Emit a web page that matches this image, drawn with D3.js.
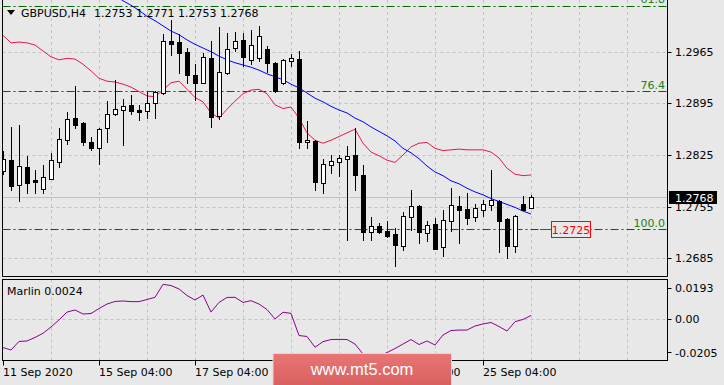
<!DOCTYPE html>
<html>
<head>
<meta charset="utf-8">
<script src="https://cdnjs.cloudflare.com/ajax/libs/d3/7.8.5/d3.min.js"></script>
<style>
body{margin:0;background:#e8e8e8;}
svg{display:block;font-family:"DejaVu Sans",sans-serif;}
</style>
</head>
<body>
<div id="chart"></div>
<script>
// GBPUSD H4 candles, 11 Sep 04:00 .. 28 Sep 04:00
var opens = [1.2803,1.2818,1.2784,1.2809,1.2791,1.2779,1.2793,1.2816,1.2845,1.2875,
	1.2869,1.2843,1.2834,1.2861,1.2881,1.2886,1.2893,1.2886,1.2884,1.2895,
	1.2909,1.2979,1.2978,1.2964,1.2933,1.2923,1.2957,1.2878,1.2936,1.2970,
	1.2981,1.2954,1.2957,1.2969,1.2950,1.2922,1.2953,1.2955,1.2842,1.2844,
	1.2787,1.2812,1.2816,1.2820,1.2825,1.2798,1.2721,1.2729,1.2722,1.2718,
	1.2702,1.2741,1.2756,1.2719,1.2732,1.2700,1.2735,1.2756,1.2752,1.2741,
	1.2751,1.2757,1.2763,1.2738,1.2701,1.2759,1.2753];
var highs = [1.2830,1.2863,1.2866,1.2824,1.2805,1.2811,1.2828,1.2862,1.2883,1.2918,
	1.2870,1.2850,1.2862,1.2898,1.2927,1.2901,1.2906,1.2893,1.2910,1.2912,
	1.2989,1.3008,1.2989,1.2970,1.2949,1.2963,1.2980,1.2998,1.2990,1.2992,
	1.2990,1.2994,1.3000,1.2973,1.2951,1.2955,1.2962,1.2966,1.2871,1.2845,
	1.2820,1.2825,1.2825,1.2837,1.2861,1.2812,1.2741,1.2733,1.2735,1.2726,
	1.2748,1.2777,1.2757,1.2735,1.2739,1.2751,1.2780,1.2769,1.2773,1.2758,
	1.2764,1.2805,1.2764,1.2739,1.2744,1.2770,1.2771];
var lows = [1.2799,1.2778,1.2762,1.2774,1.2774,1.2774,1.2792,1.2809,1.2840,1.2861,
	1.2839,1.2832,1.2813,1.2843,1.2879,1.2839,1.2880,1.2873,1.2875,1.2875,
	1.2908,1.2960,1.2936,1.2922,1.2900,1.2922,1.2863,1.2874,1.2935,1.2966,
	1.2945,1.2948,1.2952,1.2938,1.2911,1.2921,1.2945,1.2834,1.2834,1.2778,
	1.2774,1.2801,1.2797,1.2710,1.2778,1.2710,1.2710,1.2719,1.2714,1.2675,
	1.2696,1.2723,1.2706,1.2709,1.2698,1.2688,1.2722,1.2706,1.2732,1.2736,
	1.2742,1.2750,1.2693,1.2686,1.2694,1.2750,1.2753];
var closes = [1.2819,1.2783,1.2810,1.2787,1.2789,1.2795,1.2818,1.2847,1.2874,1.2866,
	1.2843,1.2835,1.2860,1.2880,1.2887,1.2891,1.2885,1.2883,1.2896,1.2910,
	1.2980,1.2976,1.2963,1.2934,1.2923,1.2958,1.2877,1.2937,1.2968,1.2979,
	1.2958,1.2974,1.2986,1.2950,1.2912,1.2954,1.2956,1.2843,1.2845,1.2789,
	1.2813,1.2817,1.2821,1.2824,1.2798,1.2720,1.2729,1.2720,1.2715,1.2703,
	1.2742,1.2756,1.2720,1.2730,1.2698,1.2737,1.2757,1.2750,1.2739,1.2753,
	1.2759,1.2764,1.2736,1.2701,1.2743,1.2750,1.2768];

// blue moving average (starts above the visible area)
var maBlue = [null,null,null,null,null,null,null,null,null,null,
	null,null,null,null,1.3042,1.3034,1.3028,1.3021,1.3013,1.3007,
	1.3000,1.2993,1.2988,1.2981,1.2975,1.2970,1.2965,1.2959,1.2954,1.2950,
	1.2947,1.2944,1.2940,1.2935,1.2931,1.2927,1.2921,1.2916,1.2909,1.2902,
	1.2897,1.2891,1.2886,1.2882,1.2875,1.2870,1.2863,1.2857,1.2851,1.2844,
	1.2834,1.2828,1.2820,1.2810,1.2802,1.2797,1.2790,1.2786,1.2780,1.2775,
	1.2771,1.2766,1.2762,1.2758,1.2754,1.2749,1.2745];
// red line
var maRed = [1.2987,1.2977,1.2978,1.2977,1.2974,1.2966,1.2958,1.2954,1.2956,1.2955,
	1.2948,1.2939,1.2929,1.2925,1.2924,1.2921,1.2917,1.2911,1.2905,1.2904,
	1.2913,1.2923,1.2925,1.2914,1.2903,1.2897,1.2882,1.2875,1.2887,1.2898,
	1.2908,1.2913,1.2914,1.2908,1.2893,1.2888,1.2890,1.2875,1.2855,1.2845,
	1.2841,1.2845,1.2850,1.2855,1.2860,1.2841,1.2829,1.2824,1.2818,1.2815,
	1.2825,1.2836,1.2841,1.2842,1.2834,1.2831,1.2832,1.2833,1.2832,1.2832,
	1.2832,1.2829,1.2821,1.2807,1.2799,1.2797,1.2798];
// Marlin oscillator
var marlin = [-0.0176,-0.0191,-0.0138,-0.0135,-0.0113,-0.0087,-0.0048,-0.0004,0.0045,0.0058,
	0.0033,0.0036,0.0067,0.0095,0.0111,0.0114,0.0110,0.0110,0.0123,0.0137,
	0.0218,0.0210,0.0189,0.0148,0.0120,0.0151,0.0045,0.0105,0.0136,0.0137,
	0.0105,0.0116,0.0095,0.0061,0.0002,0.0044,0.0037,-0.0101,-0.0107,-0.0174,
	-0.0139,-0.0126,-0.0125,-0.0126,-0.0154,-0.0216,-0.0235,-0.0229,-0.0207,-0.0182,
	-0.0154,-0.0126,-0.0157,-0.0135,-0.0160,-0.0098,-0.0070,-0.0067,-0.0067,-0.0042,
	-0.0029,-0.0020,-0.0045,-0.0073,-0.0015,-0.0001,0.0024];

var priceTicks = [1.2685,1.2755,1.2825,1.2895,1.2965];
var subTicks = [0.0193,0,-0.0205];
var subTickLabels = ["0.0193","0.00","-0.0205"];
var timeTickIdx = [0,12,24,36,48,60];
var timeTickLabels = ["11 Sep 2020","15 Sep 04:00","17 Sep 04:00","21 Sep 04:00","23 Sep 04:00","25 Sep 04:00"];
var fibLevels = [61.8,76.4,100,110];
var fibTop = 1.3517, fibBottom = 1.27245; // prices at 0% and 100%
var hLinePrice = 1.2725;

var W = 724, H = 385;
var bg = "#e8e8e8";
var n = closes.length;
var snap = function(v){ return Math.round(v) + 0.5; };

var svg = d3.select("#chart").append("svg").attr("width", W).attr("height", H);
svg.append("rect").attr("width", W).attr("height", H).attr("fill", bg);

var L = 2.5, R = 667.5, mainBottom = 276.5, subTop = 279.5, subBottom = 360.5;

var x = d3.scaleLinear().domain([0, n - 1]).range([3, 531]);
var y = d3.scaleLinear().domain([1.2685, 1.2965]).range([258.3, 51.7]);
var ys = d3.scaleLinear().domain([0, 0.0193]).range([319.3, 288.3]);

var defs = svg.append("defs");
defs.append("clipPath").attr("id", "clipMain").append("rect")
	.attr("x", L).attr("y", 0).attr("width", R - L).attr("height", mainBottom);
defs.append("clipPath").attr("id", "clipSub").append("rect")
	.attr("x", L).attr("y", subTop).attr("width", R - L).attr("height", subBottom - subTop);
var grad = defs.append("linearGradient").attr("id", "wm").attr("x1", 0).attr("y1", 0).attr("x2", 0).attr("y2", 1);
grad.append("stop").attr("offset", 0).attr("stop-color", "#e97575");
grad.append("stop").attr("offset", 1).attr("stop-color", "#d85f5f");

var gridX = d3.range(6, 90, 6).filter(function(i){ return x(i) < R - 2; });

// ---- main panel ----
var gm = svg.append("g").attr("clip-path", "url(#clipMain)");

gm.selectAll(".vgrid").data(gridX).enter().append("line")
	.attr("x1", function(d){ return snap(x(d)); }).attr("x2", function(d){ return snap(x(d)); })
	.attr("y1", 0).attr("y2", mainBottom)
	.attr("stroke", "#c3c3c3").attr("stroke-dasharray", "3,3");
gm.selectAll(".hgrid").data(priceTicks).enter().append("line")
	.attr("x1", L).attr("x2", R)
	.attr("y1", function(d){ return snap(y(d)); }).attr("y2", function(d){ return snap(y(d)); })
	.attr("stroke", "#c3c3c3").attr("stroke-dasharray", "3,3");

// current price line
gm.append("line").attr("x1", L).attr("x2", R)
	.attr("y1", snap(y(closes[n-1]))).attr("y2", snap(y(closes[n-1])))
	.attr("stroke", "#c0c0c0");

// fibo levels
var fibPrice = function(l){ return fibTop - (fibTop - fibBottom) * l / 100; };
gm.selectAll(".fib").data(fibLevels).enter().append("line")
	.attr("x1", L).attr("x2", R)
	.attr("y1", function(d){ return snap(y(fibPrice(d))); })
	.attr("y2", function(d){ return snap(y(fibPrice(d))); })
	.attr("stroke", "#006400").attr("stroke-dasharray", "8,3,2,3");
gm.selectAll(".fibtxt").data(fibLevels).enter().append("text")
	.attr("x", 665).attr("y", function(d){ return y(fibPrice(d)) - 2.5; })
	.attr("text-anchor", "end").attr("font-size", 11).attr("fill", "#1a801a")
	.text(function(d){ return d.toFixed(1); });

// moving averages
var line = d3.line().defined(function(d){ return d != null; })
	.x(function(d, i){ return x(i); }).y(function(d){ return y(d); });
gm.append("path").datum(maRed).attr("d", line).attr("fill", "none").attr("stroke", "#e8174a").attr("stroke-width", 1);
gm.append("path").datum(maBlue).attr("d", line).attr("fill", "none").attr("stroke", "#0000ff").attr("stroke-width", 1);

// candles
var idx = d3.range(n);
gm.selectAll(".wick").data(idx).enter().append("line")
	.attr("x1", function(i){ return snap(x(i)); }).attr("x2", function(i){ return snap(x(i)); })
	.attr("y1", function(i){ return Math.round(y(highs[i])); })
	.attr("y2", function(i){ return Math.round(y(lows[i])) + 1; })
	.attr("stroke", "#000");
gm.selectAll(".body").data(idx).enter().append("rect")
	.attr("x", function(i){ return Math.round(x(i)) - 2 + 0.5; })
	.attr("y", function(i){ return snap(y(Math.max(opens[i], closes[i]))); })
	.attr("width", 4)
	.attr("height", function(i){
		var h = Math.round(y(Math.min(opens[i], closes[i]))) - Math.round(y(Math.max(opens[i], closes[i])));
		return Math.max(h, 1);
	})
	.attr("fill", function(i){ return closes[i] >= opens[i] ? "#fff" : "#000"; })
	.attr("stroke", "#000");

// horizontal red line with price tag
var hy = snap(y(hLinePrice));
gm.append("line").attr("x1", x(n-1) + 9).attr("x2", 551).attr("y1", hy).attr("y2", hy).attr("stroke", "#ff0000");
gm.append("rect").attr("x", 551.5).attr("y", hy - 8).attr("width", 39).attr("height", 16)
	.attr("fill", bg).attr("stroke", "#ff0000");
gm.append("text").attr("x", 571).attr("y", hy + 4.5).attr("text-anchor", "middle")
	.attr("font-size", 11).attr("fill", "#ff0000").text(hLinePrice.toFixed(4));

// header
svg.append("path").attr("d", "M7,10L15,10L11,15Z").attr("fill", "#000");
svg.append("text").attr("x", 21).attr("y", 16.5).attr("font-size", 11).attr("fill", "#000").text("GBPUSD,H4");
svg.append("text").attr("x", 94).attr("y", 16.5).attr("font-size", 11).attr("fill", "#000")
	.attr("xml:space", "preserve")
	.text([opens[n-1], highs[n-1], lows[n-1], closes[n-1]].map(function(v){ return v.toFixed(4); }).join(" "));

// main borders
svg.append("path").attr("d", "M" + L + ",0V" + mainBottom + "H" + R + "V0").attr("fill", "none").attr("stroke", "#000");

// price axis
svg.selectAll(".ptick").data(priceTicks).enter().append("line")
	.attr("x1", R).attr("x2", R + 4)
	.attr("y1", function(d){ return snap(y(d)); }).attr("y2", function(d){ return snap(y(d)); })
	.attr("stroke", "#000");
svg.selectAll(".plab").data(priceTicks).enter().append("text")
	.attr("x", 675).attr("y", function(d){ return y(d) + 4; })
	.attr("font-size", 11).attr("fill", "#000").text(function(d){ return d.toFixed(4); });
var cy = y(closes[n-1]);
svg.append("rect").attr("x", 669).attr("y", Math.round(cy) - 6).attr("width", 48).attr("height", 13).attr("fill", "#000");
svg.append("text").attr("x", 675).attr("y", cy + 4.5).attr("font-size", 11).attr("fill", "#fff")
	.text(closes[n-1].toFixed(4));

// ---- Marlin sub panel ----
var gs = svg.append("g").attr("clip-path", "url(#clipSub)");
gs.selectAll(".vgrid").data(gridX).enter().append("line")
	.attr("x1", function(d){ return snap(x(d)); }).attr("x2", function(d){ return snap(x(d)); })
	.attr("y1", subTop).attr("y2", subBottom)
	.attr("stroke", "#c3c3c3").attr("stroke-dasharray", "3,3");
gs.append("line").attr("x1", L).attr("x2", R).attr("y1", snap(ys(0))).attr("y2", snap(ys(0)))
	.attr("stroke", "#c3c3c3").attr("stroke-dasharray", "3,3");
var sline = d3.line().x(function(d, i){ return x(i); }).y(function(d){ return ys(d); });
gs.append("path").datum(marlin).attr("d", sline).attr("fill", "none").attr("stroke", "#8b008b");

svg.append("rect").attr("x", L).attr("y", subTop).attr("width", R - L).attr("height", subBottom - subTop)
	.attr("fill", "none").attr("stroke", "#000");
svg.append("text").attr("x", 7).attr("y", 295).attr("font-size", 11).attr("fill", "#000")
	.text("Marlin " + marlin[n-1].toFixed(4));

svg.selectAll(".stick").data(subTicks).enter().append("line")
	.attr("x1", R).attr("x2", R + 4)
	.attr("y1", function(d){ return snap(ys(d)); }).attr("y2", function(d){ return snap(ys(d)); })
	.attr("stroke", "#000");
svg.selectAll(".slab").data(subTicks).enter().append("text")
	.attr("x", 675).attr("y", function(d, i){ return ys(d) + 4 + (i == 2 ? 1 : 0); })
	.attr("font-size", 11).attr("fill", "#000").text(function(d, i){ return subTickLabels[i]; });

// time axis
svg.selectAll(".ttick").data(timeTickIdx).enter().append("line")
	.attr("x1", function(d){ return snap(x(d)); }).attr("x2", function(d){ return snap(x(d)); })
	.attr("y1", subBottom).attr("y2", subBottom + 5)
	.attr("stroke", "#000");
svg.selectAll(".tlab").data(timeTickIdx).enter().append("text")
	.attr("x", function(d){ return x(d); }).attr("y", 376)
	.attr("font-size", 11).attr("fill", "#000")
	.text(function(d, i){ return timeTickLabels[i]; });

// watermark
svg.append("rect").attr("x", 273).attr("y", 353.5).attr("width", 178.5).attr("height", 33)
	.attr("fill", "url(#wm)").attr("stroke", "#f3d0d0").attr("stroke-width", 1);
svg.append("text").attr("x", 362).attr("y", 374.5).attr("text-anchor", "middle")
	.attr("font-family", "'Liberation Sans', Arial, sans-serif").attr("font-size", 16.5).attr("fill", "#fff")
	.text("www.mt5.com");
</script>
</body>
</html>
